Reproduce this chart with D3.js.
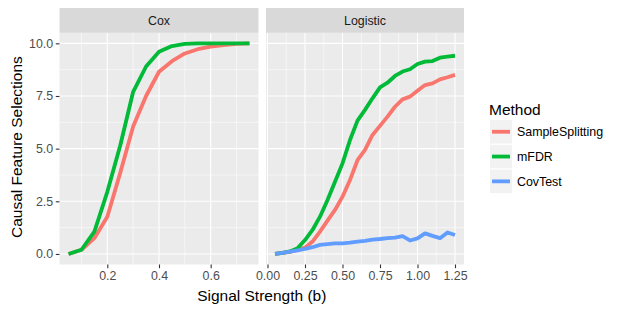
<!DOCTYPE html>
<html>
<head>
<meta charset="utf-8">
<script src="https://cdn.jsdelivr.net/npm/d3@7"></script>
<style>
  body { margin: 0; background: #fff; }
  svg { font-family: "Liberation Sans", Arial, sans-serif; }
</style>
</head>
<body>
<svg id="chart" width="623" height="312"></svg>
<script>
// =============================
// Data
// =============================

const methods = ["SampleSplitting", "mFDR", "CovTest"];
const colors = ["#F8766D", "#00BA38", "#619CFF"];

const coxB = [0.05, 0.10, 0.15, 0.20, 0.25, 0.30, 0.35, 0.40, 0.45, 0.50, 0.55, 0.60, 0.65, 0.70, 0.75];
const coxSampleSplitting = [0, 0.2, 0.75, 1.77, 3.85, 6.05, 7.5, 8.65, 9.15, 9.52, 9.72, 9.84, 9.92, 9.97, 10];
const coxMFDR = [0, 0.2, 1.06, 2.95, 5.15, 7.7, 8.9, 9.6, 9.87, 9.97, 10, 10, 10, 10, 10];

const logB = [0.05, 0.10, 0.15, 0.20, 0.25, 0.30, 0.35, 0.40, 0.45, 0.50, 0.55, 0.60, 0.65,
              0.70, 0.75, 0.80, 0.85, 0.90, 0.95, 1.00, 1.05, 1.10, 1.15, 1.20, 1.25];
const logSampleSplitting = [0, 0.05, 0.1, 0.2, 0.3, 0.59, 1.06, 1.58, 2.09, 2.72, 3.51, 4.45, 4.94,
                            5.65, 6.08, 6.52, 6.99, 7.34, 7.47, 7.75, 8.02, 8.1, 8.29, 8.39, 8.5];
const logMFDR = [0, 0.05, 0.12, 0.27, 0.66, 1.14, 1.77, 2.56, 3.43, 4.3, 5.41, 6.33, 6.84,
                 7.39, 7.91, 8.13, 8.45, 8.66, 8.77, 9.02, 9.13, 9.16, 9.32, 9.37, 9.41];
const logCovTest = [0, 0.05, 0.11, 0.17, 0.24, 0.32, 0.43, 0.47, 0.5, 0.5, 0.54, 0.59, 0.62,
                    0.68, 0.71, 0.75, 0.78, 0.85, 0.64, 0.74, 0.98, 0.86, 0.75, 1.02, 0.9];

const yTicks = [0, 2.5, 5, 7.5, 10];
const coxTicks = [0.2, 0.4, 0.6];
const logTicks = [0, 0.25, 0.5, 0.75, 1.0, 1.25];

const panels = [
  { name: "Cox", b: coxB, series: [coxSampleSplitting, coxMFDR], ticks: coxTicks, fmt: d3.format(".1f"),
    x0: 59.5, x1: 258.5 },
  { name: "Logistic", b: logB, series: [logSampleSplitting, logMFDR, logCovTest], ticks: logTicks, fmt: d3.format(".2f"),
    x0: 266, x1: 464 }
];

// =============================
// Layout
// =============================

const svg = d3.select("#chart");
const panelTop = 32.8, panelBottom = 264.5;
const stripTop = 8;
const smallFont = "12.4px", titleFont = "15.5px";

// shared y scale, ggplot-style 5% expansion
const y = d3.scaleLinear().domain([-0.5, 10.5]).range([panelBottom, panelTop]);

function midpoints(t) {
  const m = [];
  const step = t[1] - t[0];
  m.push(t[0] - step / 2);
  t.forEach(v => m.push(v + step / 2));
  return m;
}

panels.forEach(p => {
  const lo = d3.min(p.b), hi = d3.max(p.b);
  const pad = (hi - lo) * 0.05;
  const x = d3.scaleLinear().domain([lo - pad, hi + pad]).range([p.x0, p.x1]);
  const xd = x.domain();

  const g = svg.append("g");

  // panel background
  g.append("rect")
    .attr("x", p.x0).attr("y", panelTop)
    .attr("width", p.x1 - p.x0).attr("height", panelBottom - panelTop)
    .attr("fill", "#EBEBEB");

  // minor grid
  midpoints(yTicks).filter(v => v > -0.5 && v < 10.5).forEach(v => {
    g.append("line").attr("x1", p.x0).attr("x2", p.x1)
      .attr("y1", y(v)).attr("y2", y(v))
      .attr("stroke", "#fff").attr("stroke-width", 0.55);
  });
  midpoints(p.ticks).filter(v => v > xd[0] && v < xd[1]).forEach(v => {
    g.append("line").attr("y1", panelTop).attr("y2", panelBottom)
      .attr("x1", x(v)).attr("x2", x(v))
      .attr("stroke", "#fff").attr("stroke-width", 0.55);
  });

  // major grid
  yTicks.forEach(v => {
    g.append("line").attr("x1", p.x0).attr("x2", p.x1)
      .attr("y1", y(v)).attr("y2", y(v))
      .attr("stroke", "#fff").attr("stroke-width", 1.1);
  });
  p.ticks.forEach(v => {
    g.append("line").attr("y1", panelTop).attr("y2", panelBottom)
      .attr("x1", x(v)).attr("x2", x(v))
      .attr("stroke", "#fff").attr("stroke-width", 1.1);
  });

  // strip
  g.append("rect")
    .attr("x", p.x0).attr("y", stripTop)
    .attr("width", p.x1 - p.x0).attr("height", panelTop - stripTop)
    .attr("fill", "#D9D9D9");
  g.append("text")
    .attr("x", (p.x0 + p.x1) / 2).attr("y", (stripTop + panelTop) / 2 + 4.4)
    .attr("text-anchor", "middle")
    .attr("font-size", smallFont).attr("fill", "#1A1A1A")
    .text(p.name);

  // x axis
  const xAxis = d3.axisBottom(x).tickValues(p.ticks).tickFormat(p.fmt)
    .tickSize(3.7).tickPadding(2.5);
  const ax = g.append("g").attr("transform", `translate(0,${panelBottom})`).call(xAxis);
  ax.select(".domain").remove();
  ax.selectAll(".tick line").attr("stroke", "#333").attr("stroke-width", 1.1);
  ax.selectAll(".tick text").attr("fill", "#4D4D4D").attr("font-size", smallFont)
    .attr("font-family", "Liberation Sans, Arial, sans-serif");

  // lines
  const line = d3.line().x(d => x(d[0])).y(d => y(d[1]));
  p.series.forEach((vals, i) => {
    g.append("path")
      .datum(p.b.map((b, j) => [b, vals[j]]))
      .attr("d", line)
      .attr("fill", "none")
      .attr("stroke", colors[i])
      .attr("stroke-width", 3.8)
      .attr("stroke-linejoin", "round");
  });
});

// y axis (left panel only)
const yAxis = d3.axisLeft(y).tickValues(yTicks).tickFormat(d3.format(".1f"))
  .tickSize(3.7).tickPadding(2.6);
const ay = svg.append("g").attr("transform", `translate(${panels[0].x0},0)`).call(yAxis);
ay.select(".domain").remove();
ay.selectAll(".tick line").attr("stroke", "#333").attr("stroke-width", 1.1);
ay.selectAll(".tick text").attr("fill", "#4D4D4D").attr("font-size", smallFont)
  .attr("font-family", "Liberation Sans, Arial, sans-serif");

// axis titles
svg.append("text")
  .attr("x", (panels[0].x0 + panels[1].x1) / 2).attr("y", 300.5)
  .attr("text-anchor", "middle")
  .attr("font-size", titleFont).attr("fill", "#000")
  .text("Signal Strength (b)");

svg.append("text")
  .attr("transform", `translate(21.5,${(panelTop + panelBottom) / 2 - 1.5}) rotate(-90)`)
  .attr("text-anchor", "middle")
  .attr("font-size", titleFont).attr("fill", "#000")
  .text("Causal Feature Selections");

// legend
const legend = svg.append("g").attr("transform", "translate(489,0)");
legend.append("text")
  .attr("x", 0).attr("y", 114.5)
  .attr("font-size", titleFont).attr("fill", "#000")
  .text("Method");

methods.forEach((m, i) => {
  const ky = 120 + i * 24.8;
  legend.append("rect")
    .attr("x", 1).attr("y", ky)
    .attr("width", 22).attr("height", 23.5)
    .attr("fill", "#F2F2F2");
  legend.append("line")
    .attr("x1", 3).attr("x2", 21)
    .attr("y1", ky + 11.75).attr("y2", ky + 11.75)
    .attr("stroke", colors[i]).attr("stroke-width", 3.8);
  legend.append("text")
    .attr("x", 28).attr("y", ky + 11.75 + 4.4)
    .attr("font-size", smallFont).attr("fill", "#000")
    .text(m);
});
</script>
</body>
</html>
